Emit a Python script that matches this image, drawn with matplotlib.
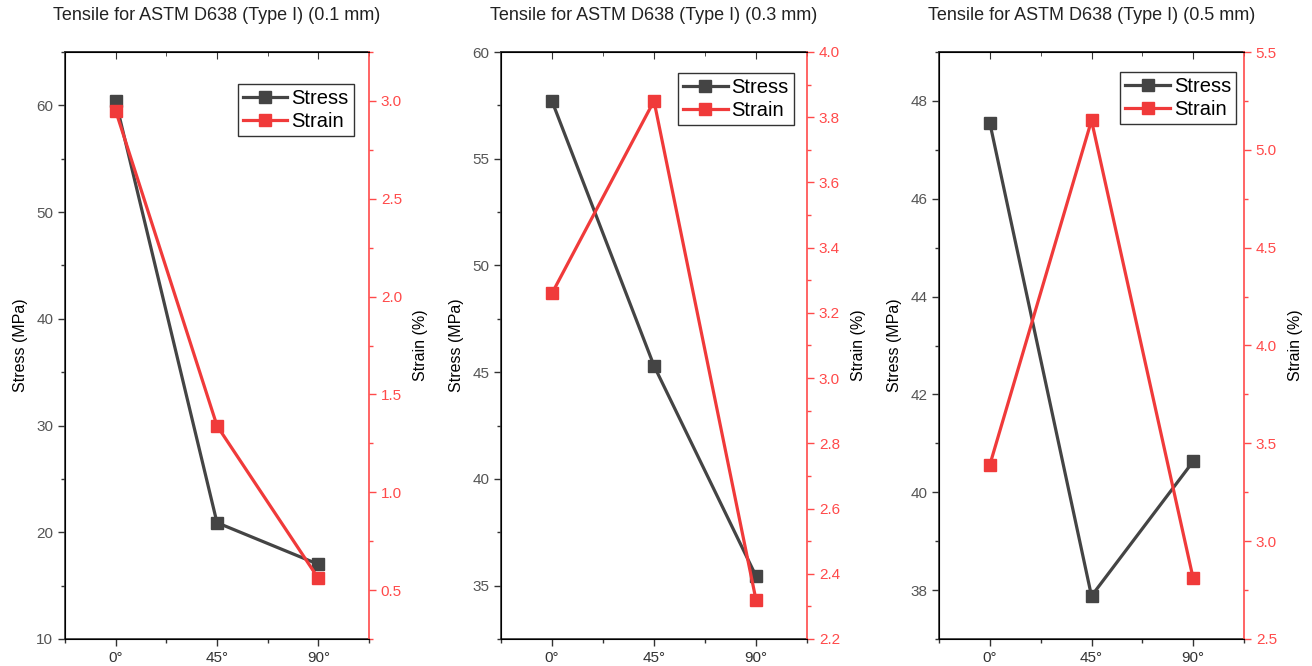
import numpy as np
import matplotlib.pyplot as plt
from matplotlib.ticker import MultipleLocator

plt.rcParams['font.family'] = ['Liberation Sans', 'DejaVu Sans']

angles = ['0°', '45°', '90°']
titles = ['Tensile for ASTM D638 (Type I) (0.1 mm)',
          'Tensile for ASTM D638 (Type I) (0.3 mm)',
          'Tensile for ASTM D638 (Type I) (0.5 mm)']
stress = [[60.4, 20.9, 17.0],
          [57.7, 45.3, 35.45],
          [47.55, 37.88, 40.63]]
strain = [[2.95, 1.34, 0.56],
          [3.26, 3.85, 2.32],
          [3.39, 5.15, 2.81]]

# axis limits / tick steps per panel
stress_lim = [(10, 65), (32.5, 60), (37, 49)]
stress_step = [10, 5, 2]
strain_lim = [(0.25, 3.25), (2.2, 4.0), (2.5, 5.5)]
strain_step = [0.5, 0.2, 0.5]

dark = '#444444'
red = '#f03a3a'
red_axis = '#ff4a4a'

fig = plt.figure(figsize=(13.12, 6.66), dpi=100)
lefts = [65, 501, 939]
widths = [304, 306, 305]
leg_anchor = [(0.95, 0.945), (0.957, 0.964), (0.974, 0.966)]
x = np.arange(len(angles))

for i in range(3):
    ax = fig.add_axes([lefts[i] / 1312, 27 / 666, widths[i] / 1312, 587 / 666])
    ax2 = ax.twinx()
    l1, = ax.plot(x, stress[i], '-s', color=dark, lw=2.3, ms=8.5, label='Stress')
    l2, = ax2.plot(x, strain[i], '-s', color=red, lw=2.3, ms=8.5, label='Strain')

    ax.set_xlim(-0.5, 2.5)
    ax.set_xticks(x)
    ax.set_xticklabels(angles)
    ax.xaxis.set_minor_locator(MultipleLocator(0.5))
    ax.set_ylim(*stress_lim[i])
    ax.yaxis.set_major_locator(MultipleLocator(stress_step[i]))
    ax.yaxis.set_minor_locator(MultipleLocator(stress_step[i] / 2))
    ax2.set_ylim(*strain_lim[i])
    ax2.yaxis.set_major_locator(MultipleLocator(strain_step[i]))
    ax2.yaxis.set_minor_locator(MultipleLocator(strain_step[i] / 2))
    ax2.yaxis.set_major_formatter(lambda v, p: f'{v:.1f}')

    ax.tick_params(axis='both', which='major', length=5, width=1, labelsize=11,
                   colors='#333333')
    ax.tick_params(axis='y', which='major', labelcolor='#555555')
    ax.tick_params(axis='both', which='minor', length=3, width=1, colors='#333333')
    ax2.tick_params(axis='y', which='major', length=5, width=1, labelsize=11,
                    colors=red_axis)
    ax2.tick_params(axis='y', which='minor', length=3, width=1, colors=red_axis)

    top = ax.secondary_xaxis('top')
    top.set_xticks(x)
    top.set_xticklabels([])
    top.xaxis.set_minor_locator(MultipleLocator(0.5))
    top.tick_params(which='major', direction='in', length=5, colors='#333333')
    top.tick_params(which='minor', direction='in', length=3, colors='#333333')

    for s in ['left', 'bottom', 'top']:
        ax.spines[s].set_color('#333333')
        ax.spines[s].set_linewidth(1.2)
    top.spines['top'].set_color('#333333')
    top.spines['top'].set_linewidth(1.2)
    ax2.spines['right'].set_color(red_axis)
    ax2.spines['right'].set_linewidth(1.2)
    ax.spines['right'].set_visible(False)

    ax.set_ylabel('Stress (MPa)', fontsize=11.5, labelpad=6)
    ax2.set_ylabel('Strain (%)', fontsize=11.5, rotation=90, labelpad=8)
    ax.set_title(titles[i], fontsize=13, pad=23, color='#222222')

    leg = ax2.legend([l1, l2], ['Stress', 'Strain'], loc='upper right',
                     bbox_to_anchor=leg_anchor[i], fontsize=14.5, frameon=True,
                     fancybox=False, edgecolor='black', handlelength=2.2,
                     handletextpad=0.2, borderpad=0.25, labelspacing=0.2,
                     borderaxespad=0.0)
    leg.get_frame().set_linewidth(1.0)

fig.savefig('out.png', dpi=100)
